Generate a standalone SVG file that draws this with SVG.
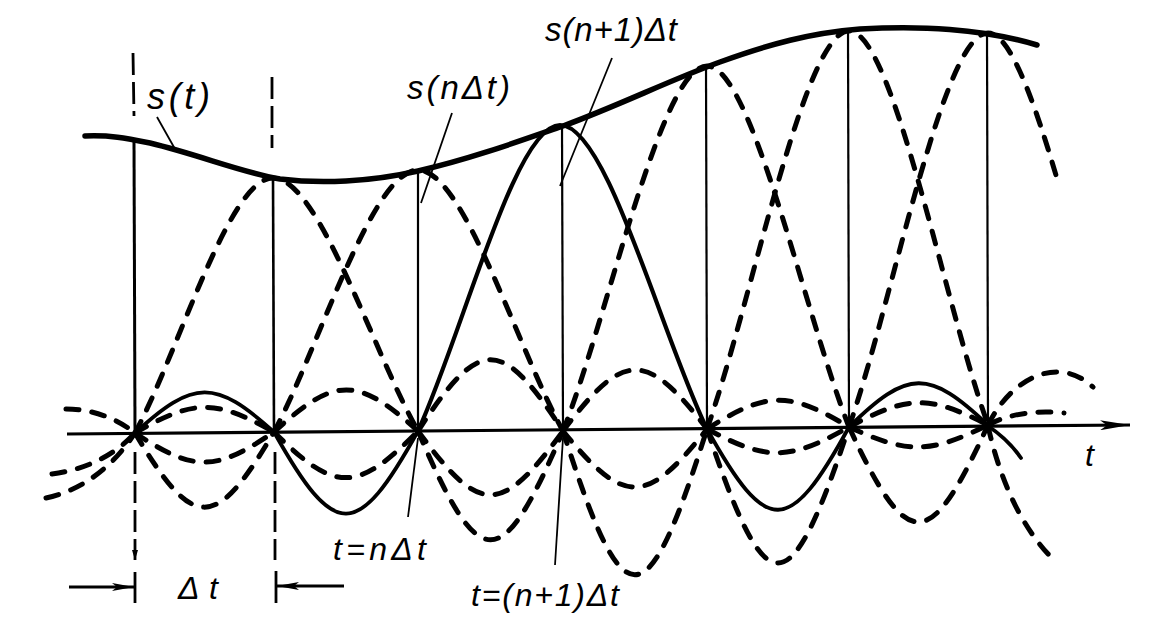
<svg xmlns="http://www.w3.org/2000/svg" width="1171" height="644" viewBox="0 0 1171 644">
<style>
.env{fill:none;stroke:#000;stroke-width:5.5;stroke-linecap:round;stroke-linejoin:round}
.sol{fill:none;stroke:#000;stroke-width:3.8;stroke-linecap:round}
.dsh{fill:none;stroke:#000;stroke-width:5;stroke-linecap:round;stroke-dasharray:13 13}
.thin{fill:none;stroke:#000;stroke-width:2.2}
.vd{fill:none;stroke:#000;stroke-width:2.8;stroke-dasharray:22 7}
.lead{fill:none;stroke:#000;stroke-width:1.8}
.ax{fill:none;stroke:#000;stroke-width:3.2}
.lbl{font-family:"Liberation Sans","DejaVu Sans",sans-serif;font-style:italic;fill:#000}
</style>
<defs>
<marker id="ah" viewBox="0 0 30 10" refX="30" refY="5" markerWidth="30" markerHeight="10" markerUnits="userSpaceOnUse" orient="auto"><path d="M0 0 L30 5 L0 10 L7 5 Z" fill="#000"/></marker>
<marker id="ah2" viewBox="0 0 22 8" refX="22" refY="4" markerWidth="22" markerHeight="8" markerUnits="userSpaceOnUse" orient="auto"><path d="M0 0 L22 4 L0 8 L5 4 Z" fill="#000"/></marker>
<marker id="ah3" viewBox="0 0 10 6" refX="10" refY="3" markerWidth="10" markerHeight="6" markerUnits="userSpaceOnUse" orient="auto"><path d="M0 0 L10 3 L0 6 Z" fill="#000"/></marker>
</defs>
<rect width="1171" height="644" fill="#fff"/>

<g id="axis">
<line class="ax" x1="67" y1="434" x2="1130" y2="425" marker-end="url(#ah)"/>
<text class="lbl" x="1085" y="466" font-size="32">t</text>
</g>

<g id="sample-lines">
<path class="vd" d="M133 53 L134 116"/>
<path class="thin" style="stroke-width:3" d="M134 140 L135 433"/>
<path class="vd" d="M135 452 L135 560" marker-end="url(#ah3)"/>
<path class="thin" style="stroke-width:2.8" d="M135 572 L135 603"/>
<path class="vd" d="M272 77 L272 148"/>
<path class="thin" style="stroke-width:2.6" d="M273 178 L274 432"/>
<path class="vd" d="M275 452 L275 560"/>
<path class="thin" style="stroke-width:2.8" d="M276 571 L276 603"/>
<path class="thin" d="M418 171 L418 431"/>
<path class="thin" d="M562 126 L563 431"/>
<path class="thin" d="M706 67 L707 429"/>
<path class="thin" d="M848 30 L849 427"/>
<path class="thin" d="M987 33 L988 425"/>
</g>

<g id="envelope">
<path class="env" d="M85 136 C110 135 125 138 150 143 C200 155 240 172 280 179 C320 184 370 182 418 171 C470 159 520 141 563 126 C620 105 670 80 720 62 C770 44 810 33 860 29 C920 26 980 28 1037 45"/>
<text class="lbl" x="147" y="109" font-size="36" textLength="63" lengthAdjust="spacing">s(t)</text>
</g>

<g id="main-lobes">
<path class="dsh" d="M135 433 C179 351 229 178 273 178 C319 178 372 350 418 431"/>
<path class="dsh" d="M274 432 C319 348 372 170 418 170 C464 170 517 348 563 431"/>
<path class="sol" style="stroke-width:4.2" d="M418 431 C463 333 515 125 560 125 C607 125 660 332 707 429"/>
<path class="dsh" d="M563 431 C609 314 661 66 707 66 C752 66 804 312 849 427"/>
<path class="dsh" d="M707 429 C752 302 804 31 849 31 C893 31 943 299 988 425"/>
<path class="dsh" d="M849 427 C893 301 943 33 988 33 C1010 33 1034 100 1058 182"/>
</g>

<g id="side-lobes">
<path class="dsh" d="M66 409 C90 409 115 417 135 433"/>
<path class="dsh" d="M52 474 C82 470 112 458 135 433"/>
<path class="dsh" d="M46 498 C82 490 112 468 135 433"/>

<path class="sol" d="M135 433 C194 379 215 379 274 432"/>
<path class="dsh" d="M135 433 C194 399 215 399 274 432"/>
<path class="dsh" d="M135 433 C194 472 215 472 274 432"/>
<path class="dsh" d="M135 433 C194 532 215 532 274 432"/>

<path class="dsh" d="M274 432 C335 376 357 376 418 431"/>
<path class="dsh" d="M274 432 C335 493 357 493 418 431"/>
<path class="sol" d="M274 432 C335 541 357 541 418 431"/>

<path class="dsh" d="M418 431 C480 336 501 336 563 431"/>
<path class="dsh" d="M418 431 C480 516 501 516 563 431"/>
<path class="dsh" d="M418 431 C480 576 501 576 563 431"/>

<path class="dsh" d="M563 431 C624 350 646 350 707 429"/>
<path class="dsh" d="M563 431 C624 506 646 506 707 429"/>
<path class="dsh" d="M563 431 C624 623 646 623 707 429"/>

<path class="dsh" d="M707 429 C767 391 789 391 849 427"/>
<path class="dsh" d="M707 429 C767 461 789 461 849 427"/>
<path class="sol" d="M707 429 C767 537 789 537 849 427"/>
<path class="dsh" d="M707 429 C767 608 789 608 849 427"/>

<path class="sol" d="M849 427 C908 369 929 369 988 425"/>
<path class="dsh" d="M849 427 C908 395 929 395 988 425"/>
<path class="dsh" d="M849 427 C908 454 929 454 988 425"/>
<path class="dsh" d="M849 427 C908 554 929 554 988 425"/>

<path class="dsh" d="M988 425 C1004 393 1030 372 1057 372 C1072 372 1083 378 1093 387"/>
<path class="dsh" d="M988 425 C1008 414 1035 410 1064 413"/>
<path class="sol" d="M988 426 C1000 434 1012 445 1021 458"/>
<path class="dsh" d="M988 426 C1000 480 1022 530 1056 562"/>
</g>

<g id="connectors">
<path class="lead" d="M157 117 L175 149"/>
<path class="lead" d="M452 113 L421 203"/>
<path class="lead" d="M612 58 L560 186"/>
<path class="lead" d="M418 438 L408 517"/>
<path class="lead" d="M563 438 L555 565"/>
<line class="ax" x1="69" y1="587" x2="134" y2="587" marker-end="url(#ah2)"/>
<line class="ax" x1="344" y1="586" x2="277" y2="586" marker-end="url(#ah2)"/>
</g>

<g id="labels">
<text class="lbl" x="407" y="99" font-size="33" textLength="103" lengthAdjust="spacing">s(nΔt)</text>
<text class="lbl" x="545" y="41" font-size="33" textLength="132" lengthAdjust="spacing">s(n+1)Δt</text>
<text class="lbl" x="333" y="560" font-size="32" textLength="93" lengthAdjust="spacing">t=nΔt</text>
<text class="lbl" x="471" y="606" font-size="32" textLength="148" lengthAdjust="spacing">t=(n+1)Δt</text>
<text class="lbl" x="178" y="599" font-size="32" textLength="40" lengthAdjust="spacing">Δt</text>
</g>
</svg>
